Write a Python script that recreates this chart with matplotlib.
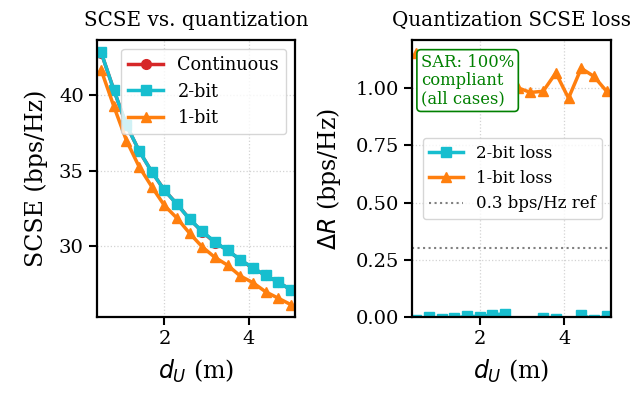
import numpy as np
import matplotlib

matplotlib.use("Agg")
import matplotlib.pyplot as plt

# kullanici mesafesi d_U [m]
d_u = [0.5, 0.8, 1.1, 1.4, 1.7, 2.0, 2.3, 2.6, 2.9, 3.2, 3.5, 3.8, 4.1, 4.4, 4.7, 5.0]

# surekli faz (ideal) SCSE [bps/Hz]
scse_cont = [42.79, 40.33, 38.00, 36.31, 34.93, 33.71, 32.79, 31.80,
             30.96, 30.25, 29.74, 29.11, 28.56, 28.09, 27.63, 27.14]

# kuantalama kaybi (surekli - kuantali) [bps/Hz]
loss_2bit = [-0.013, 0.001, -0.008, -0.005, 0.005, 0.002, 0.011, 0.014,
             -0.030, -0.030, -0.004, -0.008, -0.030, 0.011, -0.011, 0.005]
loss_1bit = [1.15, 1.08, 1.02, 1.05, 0.99, 1.01, 0.93, 0.94,
             1.00, 0.98, 0.985, 1.065, 0.955, 1.085, 1.05, 0.985]

ref_loss = 0.3

scse_cont = np.array(scse_cont)
scse_2bit = scse_cont - np.array(loss_2bit)
scse_1bit = scse_cont - np.array(loss_1bit)

plt.rcParams["font.family"] = "DejaVu Serif"
plt.rcParams["mathtext.fontset"] = "dejavusans"

C_RED, C_CYAN, C_ORANGE = "#d62728", "#17becf", "#ff7f0e"
lw, ms = 2.5, 7

fig = plt.figure(figsize=(6.31, 3.95), dpi=100)
ax1 = fig.add_axes([0.1537, 0.197, 0.3138, 0.702])
ax2 = fig.add_axes([0.653, 0.197, 0.315, 0.702])

ax1.plot(d_u, scse_cont, "-o", color=C_RED, lw=lw, ms=ms, label="Continuous")
ax1.plot(d_u, scse_2bit, "-s", color=C_CYAN, lw=lw, ms=ms, label="2-bit")
ax1.plot(d_u, scse_1bit, "-^", color=C_ORANGE, lw=lw, ms=ms, label="1-bit")
ax1.set_ylabel("SCSE (bps/Hz)", fontsize=17, labelpad=8)
ax1.set_title("SCSE vs. quantization", fontsize=14.3, pad=10)
ax1.legend(loc="upper right", fontsize=12.7)

ax2.plot(d_u, loss_2bit, "-s", color=C_CYAN, lw=lw, ms=ms, label="2-bit loss")
ax2.plot(d_u, loss_1bit, "-^", color=C_ORANGE, lw=lw, ms=ms, label="1-bit loss")
ax2.axhline(ref_loss, color="gray", ls=":", lw=1.5, label="0.3 bps/Hz ref")
ax2.set_ylim(bottom=0)
ax2.set_yticks([0, 0.25, 0.5, 0.75, 1.0])
ax2.yaxis.set_major_formatter(matplotlib.ticker.FormatStrFormatter("%.2f"))
ax2.set_ylabel(r"$\Delta R$ (bps/Hz)", fontsize=17, labelpad=9)
ax2.set_title("Quantization SCSE loss", fontsize=14.3, pad=10)
ax2.legend(loc="center right", fontsize=12)
ax2.text(0.045, 0.95, "SAR: 100%\ncompliant\n(all cases)", transform=ax2.transAxes,
         ha="left", va="top", fontsize=11.8, color="green", linespacing=1.1,
         bbox=dict(boxstyle="round,pad=0.25", fc="white", ec="green", lw=1.2))

for a in (ax1, ax2):
    a.set_xlim(0.4, 5.1)
    a.set_xticks([2, 4])
    a.set_xlabel("$d_U$ (m)", fontsize=17, labelpad=7)
    a.grid(True, ls=":", color="lightgray", lw=0.9)
    a.tick_params(labelsize=14, width=1.5, length=6)
    for s in a.spines.values():
        s.set_linewidth(1.6)

fig.savefig("out.png", dpi=100)
